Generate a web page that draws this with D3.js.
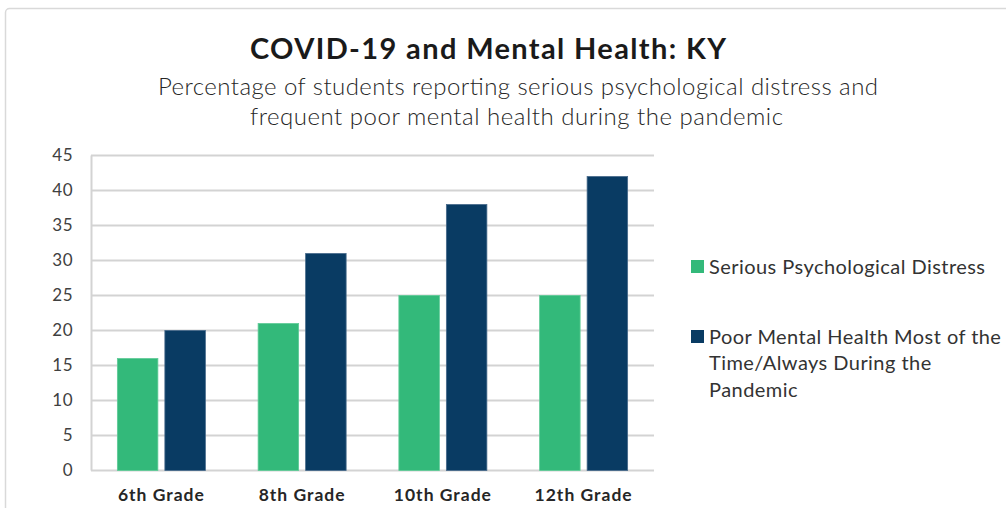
<!DOCTYPE html>
<html>
<head>
<meta charset="utf-8">
<script src="https://cdn.jsdelivr.net/npm/d3@7"></script>
<style>
  body { margin: 0; background: #fff; }
  text { font-family: Lato, "Open Sans", sans-serif; }
</style>
</head>
<body>
<div id="chart"></div>
<script>
// chart data
var grades = ["6th Grade", "8th Grade", "10th Grade", "12th Grade"];
var distress = [16, 21, 25, 25];
var poorHealth = [20, 31, 38, 42];
var yTicks = [0, 5, 10, 15, 20, 25, 30, 35, 40, 45];
var legendLines = [
  ["Serious Psychological Distress"],
  ["Poor Mental Health Most of the", "Time/Always During the", "Pandemic"]
];

var width = 1006;
var height = 508;
var green = "#33b97a";
var navy = "#093b63";

var svg = d3.select("#chart").append("svg")
  .attr("width", width)
  .attr("height", height);

// the reference font is wider than Lato, so spread letters out to a target width
function spacingFor(node, target) {
  var n = node.getNumberOfChars();
  var w = node.getComputedTextLength();
  return (target - w) / Math.max(1, n - 1);
}

// outer frame (runs off the right and bottom edge)
svg.append("rect")
  .attr("x", 5.5).attr("y", 8.5)
  .attr("width", 1020).attr("height", 520)
  .attr("rx", 4)
  .attr("fill", "none")
  .attr("stroke", "#d9d9d9")
  .attr("stroke-width", 1.5);

// titles
svg.append("text")
  .attr("x", 250).attr("y", 59)
  .attr("font-size", "29px")
  .attr("font-weight", "bold")
  .attr("fill", "#1a1a1a")
  .attr("textLength", 476)
  .attr("lengthAdjust", "spacing")
  .text("COVID-19 and Mental Health: KY");

var subtitle = [
  { text: "Percentage of students reporting serious psychological distress and", x: 158, w: 720, y: 95 },
  { text: "frequent poor mental health during the pandemic", x: 250, w: 533, y: 125 }
];
svg.selectAll("text.sub")
  .data(subtitle)
  .enter()
  .append("text")
  .attr("class", "sub")
  .attr("x", function(d) { return d.x; })
  .attr("y", function(d) { return d.y; })
  .attr("font-size", "24px")
  .attr("font-weight", 300)
  .attr("fill", "#262626")
  .attr("textLength", function(d) { return d.w; })
  .attr("lengthAdjust", "spacing")
  .text(function(d) { return d.text; });

// scales
var x0 = d3.scaleBand()
  .domain(grades)
  .range([91, 654]);

var y = d3.scaleLinear()
  .domain([0, 45])
  .range([470.5, 155.5]);

var barW = 40.5;
var gap = 7;

// grid lines
svg.selectAll("line.grid")
  .data(yTicks)
  .enter()
  .append("line")
  .attr("class", "grid")
  .attr("x1", 91).attr("x2", 654)
  .attr("y1", function(d) { return y(d); })
  .attr("y2", function(d) { return y(d); })
  .attr("stroke", "#d3d3d3")
  .attr("stroke-width", 2);

// left axis line
svg.append("line")
  .attr("x1", 91.5).attr("x2", 91.5)
  .attr("y1", y(45)).attr("y2", y(0))
  .attr("stroke", "#d3d3d3")
  .attr("stroke-width", 2);

// y tick labels
svg.selectAll("text.ytick")
  .data(yTicks)
  .enter()
  .append("text")
  .attr("class", "ytick")
  .attr("x", 73)
  .attr("y", function(d) { return y(d); })
  .attr("dy", "0.35em")
  .attr("text-anchor", "end")
  .attr("font-size", "17px")
  .attr("fill", "#404040")
  .attr("letter-spacing", "0.5px")
  .text(function(d) { return d; });

// bars
var rows = grades.map(function(g, i) { return { grade: g, a: distress[i], b: poorHealth[i] }; });

svg.selectAll("rect.distress")
  .data(rows)
  .enter()
  .append("rect")
  .attr("class", "distress")
  .attr("x", function(d) { return x0(d.grade) + x0.bandwidth() / 2 - gap / 2 - barW; })
  .attr("y", function(d) { return y(d.a); })
  .attr("width", barW)
  .attr("height", function(d) { return y(0) - y(d.a); })
  .attr("fill", green)
  .attr("stroke", "#5fcb97")
  .attr("stroke-width", 0.8);

svg.selectAll("rect.poor")
  .data(rows)
  .enter()
  .append("rect")
  .attr("class", "poor")
  .attr("x", function(d) { return x0(d.grade) + x0.bandwidth() / 2 + gap / 2; })
  .attr("y", function(d) { return y(d.b); })
  .attr("width", barW)
  .attr("height", function(d) { return y(0) - y(d.b); })
  .attr("fill", navy)
  .attr("stroke", "#46698a")
  .attr("stroke-width", 0.8);

// x labels
var xLabels = svg.selectAll("text.xlab")
  .data(grades)
  .enter()
  .append("text")
  .attr("class", "xlab")
  .attr("x", function(d) { return x0(d) + x0.bandwidth() / 2; })
  .attr("y", 500.5)
  .attr("text-anchor", "middle")
  .attr("font-size", "17.5px")
  .attr("font-weight", "bold")
  .attr("fill", "#262626")
  .text(function(d) { return d; });
var xls = spacingFor(xLabels.node(), 86);
xLabels.attr("letter-spacing", xls + "px");

// legend
var legendColors = [green, navy];
var legendTop = [260, 330];
var legendTexts = [];

legendLines.forEach(function(lines, k) {
  svg.append("rect")
    .attr("x", 691).attr("y", legendTop[k])
    .attr("width", 13).attr("height", 13)
    .attr("fill", legendColors[k]);
  var t = svg.selectAll("text.leg" + k)
    .data(lines)
    .enter()
    .append("text")
    .attr("class", "leg" + k)
    .attr("x", 709)
    .attr("y", function(d, i) { return legendTop[k] + 13.5 + i * 26.5; })
    .attr("font-size", "20px")
    .attr("fill", "#333")
    .text(function(d) { return d; });
  legendTexts.push(t);
});
var lls = spacingFor(legendTexts[0].node(), 276);
legendTexts.forEach(function(t) { t.attr("letter-spacing", lls + "px"); });
</script>
</body>
</html>
